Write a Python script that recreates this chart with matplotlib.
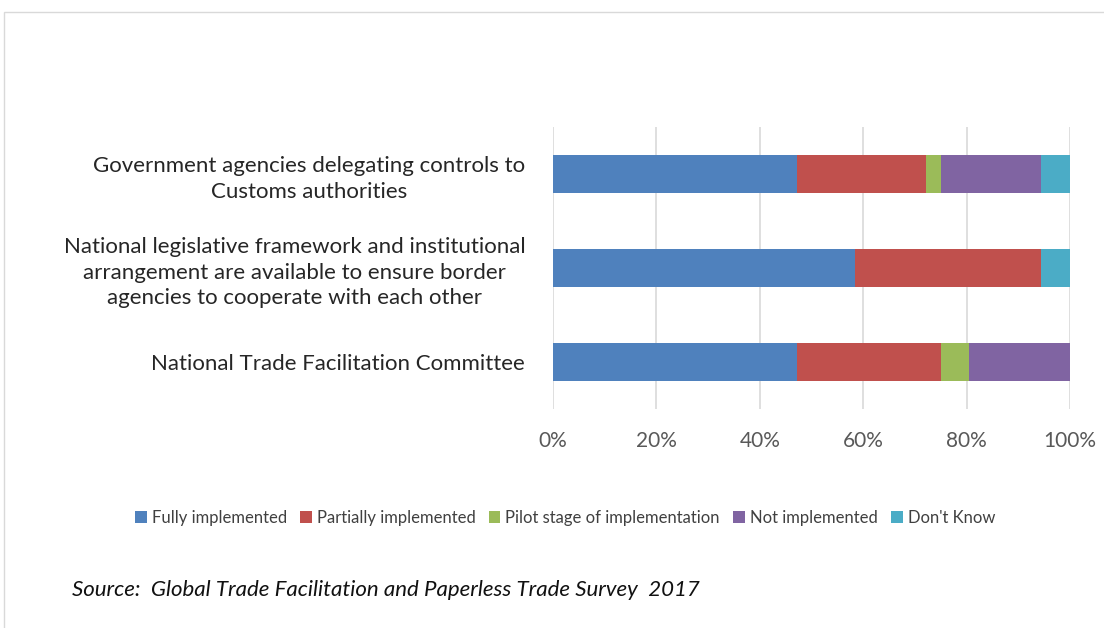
import matplotlib.pyplot as plt
from matplotlib.patches import Rectangle

# survey responses (number of countries, n=36)
categories = [
    "Government agencies delegating controls to\nCustoms authorities",
    "National legislative framework and institutional\narrangement are available to ensure border\nagencies to cooperate with each other",
    "National Trade Facilitation Committee",
]
series_names = ["Fully implemented", "Partially implemented", "Pilot stage of implementation",
                "Not implemented", "Don't Know"]
fully = [17, 21, 17]
partial = [9, 13, 10]
pilot = [1, 0, 2]
not_impl = [7, 0, 7]
dont_know = [2, 2, 0]
colors = ["#4f81bd", "#c0504d", "#9bbb59", "#8064a2", "#4bacc6"]
xticks = [0, 20, 40, 60, 80, 100]

plt.rcParams['font.family'] = ['Lato', 'DejaVu Sans']

fig = plt.figure(figsize=(11.04, 6.28), dpi=100)
fig.patches.append(Rectangle((4 / 1104, -0.01), 1.1, 1 - 12 / 628 + 0.01, transform=fig.transFigure,
                             fill=False, edgecolor="#d9d9d9", lw=1))
ax = fig.add_axes([553 / 1104, 1 - 409 / 628, 517 / 1104, 282 / 628])

series = [fully, partial, pilot, not_impl, dont_know]
totals = [sum(s[i] for s in series) for i in range(len(categories))]
ypos = list(range(len(categories)))[::-1]
left = [0.0] * len(categories)
for name, vals, c in zip(series_names, series, colors):
    pct = [v / t * 100 for v, t in zip(vals, totals)]
    ax.barh(ypos, pct, left=left, height=0.4, color=c, label=name, zorder=3)
    left = [l + p for l, p in zip(left, pct)]

ax.set_xlim(0, 100)
ax.set_ylim(-0.5, len(categories) - 0.5)
ax.set_xticks(xticks)
ax.set_xticklabels([f"{t}%" for t in xticks])
ax.set_yticks(ypos)
ax.set_yticklabels(categories, multialignment="center", linespacing=1.35)
ax.tick_params(axis="x", colors="#595959", labelsize=15, length=0, pad=16)
ax.tick_params(axis="y", colors="#262626", labelsize=16, length=0, pad=20)
ax.grid(axis="x", color="#d9d9d9", lw=1.2, zorder=0)
for s in ax.spines.values():
    s.set_visible(False)

fig.legend(loc="center", bbox_to_anchor=(565 / 1104, 1 - 518 / 628), ncol=5, frameon=False,
           fontsize=12, handlelength=0.7, handleheight=0.7, handletextpad=0.3, columnspacing=0.8,
           labelcolor="#404040")

fig.text(72 / 1104, 1 - 590 / 628, "Source:  Global Trade Facilitation and Paperless Trade Survey  2017",
         style="italic", fontsize=16, va="center", ha="left", color="#111111")

fig.savefig("out.png", dpi=100)
